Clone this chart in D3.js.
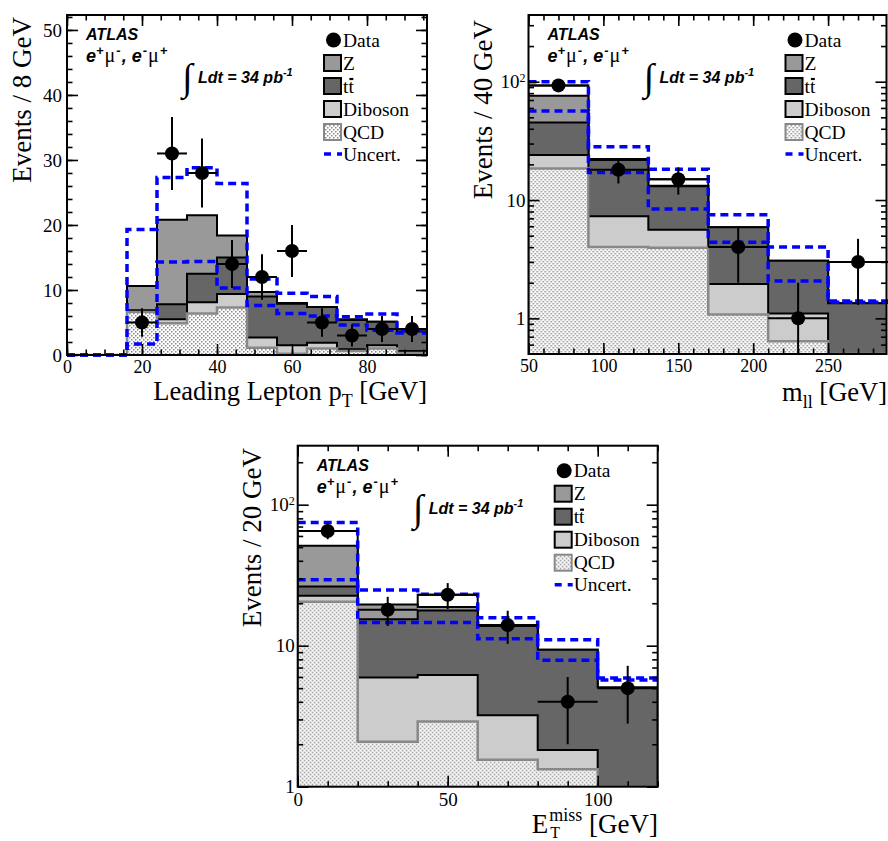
<!DOCTYPE html>
<html><head><meta charset="utf-8">
<script src="https://cdn.jsdelivr.net/npm/d3@7"></script>
<style>
body{margin:0;background:#fff;}
svg{display:block;background:#fff;}
</style></head><body>
<svg id="c" width="888" height="841"></svg>
<script>
// ---------------- DATA ----------------
// Leading lepton pT (8 GeV bins)
const ptBinEdges = [0,8,16,24,32,40,48,56,64,72,80,88,96];
const ptQCD      = [0,0,6.6,4.9,6.4,7.3,1.1,0.2,1.0,0.6,1.0,0.3];
const ptDiboson  = [0,0,0.1,0.6,1.7,2.1,1.6,1.3,0.9,0.3,0.5,0.3];
const ptTtbar    = [0,0,0.2,2.3,4.4,5.6,6.3,6.4,5.5,4.5,3.6,3.0];
const ptZ        = [0,0,3.7,13.0,9.0,3.4,0.7,0.1,0,0.1,0,0];
const ptData     = [0,0,5,31,28,14,12,16,5,3,4,4];
const ptDataErr  = [0,0,2.2,5.6,5.3,3.7,3.5,4.0,2.2,1.7,2.0,2.0];
const ptUncUp    = [0,0,19.3,27.3,28.8,26.4,11.7,9.5,9.0,5.9,6.3,3.8];
const ptUncDown  = [0,0,1.7,14.3,14.4,10.3,7.6,6.4,6.0,4.6,3.8,3.4];
const ptXTicks   = [0,20,40,60,80];
const ptYTicks   = [0,10,20,30,40,50];

// Dilepton mass m_ll (40 GeV bins)
const mllBinEdges = [50,90,130,170,210,250,290];
const mllQCD      = [18.5,4.0,3.95,1.08,0.64,0];
const mllDiboson  = [5.5,3.3,1.65,0.87,0.46,0];
const mllTtbar    = [21.3,14.5,7.5,3.95,1.97,1.34];
const mllZ        = [30.9,0.4,0.1,0,0,0];
const mllData     = [93,18,15,4,1,3];
const mllDataErr  = [9.6,4.2,3.9,2.0,1.0,1.7];
const mllUncUp    = [100,28.2,18.2,7.5,4.0,1.4];
const mllUncDown  = [56.5,17.1,8.4,4.4,2.07,1.37];
const mllXTicks   = [50,100,150,200,250];
const mllYTicks   = [1,10,100];

// Missing ET (20 GeV bins)
const metBinEdges = [0,20,40,60,80,100,120];
const metQCD      = [20.5,2.08,2.9,1.55,1.33,0];
const metDiboson  = [2.1,3.86,3.3,1.66,0.49,0];
const metTtbar    = [3.7,9.46,11.6,10.59,7.52,5.05];
const metZ        = [24.9,4.2,1.0,0,0,0];
const metData     = [65,18,23,14,4,5];
const metDataErr  = [8.1,4.2,4.8,3.7,2.0,2.2];
const metUncUp    = [74.9,24.8,23.2,15.8,11.0,5.9];
const metUncDown  = [29.3,14.6,14.6,11.2,7.9,5.7];
const metXTicks   = [0,50,100];
const metYTicks   = [1,10,100];

const legendLabels = ["Data","Z","tt","Diboson","QCD","Uncert."];

// ---------------- STYLE ----------------
const SERIF = "'Liberation Serif','Times New Roman',serif";
const SANS  = "'Liberation Sans',Arial,Helvetica,sans-serif";
const colZ = "#999999", colTT = "#666666", colDib = "#cccccc", colQCDLine = "#888888";
const colUnc = "#0000ff";

const svg = d3.select("#c");
const defs = svg.append("defs");
const pat = defs.append("pattern").attr("id","dots").attr("patternUnits","userSpaceOnUse")
  .attr("width",4).attr("height",4);
pat.append("rect").attr("width",4).attr("height",4).attr("fill","#fff");
pat.append("rect").attr("x",0).attr("y",0).attr("width",1.5).attr("height",1.5).attr("fill","#888");
pat.append("rect").attr("x",2).attr("y",2).attr("width",1.5).attr("height",1.5).attr("fill","#888");

function stepPoints(edges, vals){
  const p=[]; vals.forEach((v,i)=>{p.push([edges[i],v]);p.push([edges[i+1],v]);}); return p;
}
function cum(arrs){ return arrs[0].map((_,i)=>arrs.reduce((s,a)=>s+a[i],0)); }

let clipId=0;
function drawPanel(c){
  const g = svg.append("g").attr("transform",`translate(${c.left},${c.top})`);
  const x = d3.scaleLinear().domain(c.xDom).range([0,c.w]);
  const y = c.log ? d3.scaleLog().domain(c.yDom).range([c.h,0]) : d3.scaleLinear().domain(c.yDom).range([c.h,0]);
  const lo = c.yDom[0];
  const yv = v => y(Math.max(lo, Math.min(c.yDom[1]*2, v)));
  const yc = v => Math.max(0, Math.min(c.h, yv(v)));

  const cid = "clip"+(clipId++);
  defs.append("clipPath").attr("id",cid).append("rect").attr("x",0).attr("y",0).attr("width",c.w).attr("height",c.h);
  const plot = g.append("g").attr("clip-path",`url(#${cid})`);

  const area = d3.area().x(d=>x(d[0])).y0(c.h+2).y1(d=>yc(d[1]));

  if(c.dataHist){
    plot.append("path").datum(stepPoints(c.edges,c.data)).attr("d",area)
      .attr("fill","#fff").attr("stroke","#000").attr("stroke-width",2);
  }
  const c1 = c.qcd, c2 = cum([c.qcd,c.dib]), c3 = cum([c.qcd,c.dib,c.tt]), c4 = cum([c.qcd,c.dib,c.tt,c.z]);
  [[c4,colZ,"#000",2],[c3,colTT,"#000",2],[c2,colDib,"#000",2],[c1,"url(#dots)",colQCDLine,2.5]].forEach(([vals,fill,stroke,sw])=>{
    plot.append("path").datum(stepPoints(c.edges,vals)).attr("d",area)
      .attr("fill",fill).attr("stroke",stroke).attr("stroke-width",sw).attr("stroke-linejoin","miter");
  });

  const line = d3.line().x(d=>x(d[0])).y(d=>yc(d[1]));
  [c.up,c.dn].forEach(vals=>{
    g.append("path").datum(stepPoints(c.edges,vals)).attr("d",line)
      .attr("fill","none").attr("stroke",colUnc).attr("stroke-width",3.5).attr("stroke-dasharray","8,5");
  });

  const dg = g.append("g");
  c.data.forEach((d,i)=>{
    if(d<=0) return;
    const cx = x((c.edges[i]+c.edges[i+1])/2);
    dg.append("line").attr("x1",x(c.edges[i])).attr("x2",x(c.edges[i+1])).attr("y1",yv(d)).attr("y2",yv(d))
      .attr("stroke","#000").attr("stroke-width",2);
    dg.append("line").attr("x1",cx).attr("x2",cx).attr("y1",yc(d+c.err[i])).attr("y2",yc(d-c.err[i]))
      .attr("stroke","#000").attr("stroke-width",2);
    dg.append("circle").attr("cx",cx).attr("cy",yv(d)).attr("r",7).attr("fill","#000");
  });

  function styleAxis(sel, fs){
    sel.select(".domain").remove();
    sel.selectAll(".tick line").attr("stroke","#000").attr("stroke-width",1.6);
    sel.selectAll("text").attr("font-family",SERIF).attr("font-size",fs).attr("fill","#000");
  }
  const fmtX = d3.format("d");
  styleAxis(g.append("g").attr("transform",`translate(0,${c.h})`)
    .call(d3.axisBottom(x).tickValues(c.xMaj).tickSizeInner(-11).tickSizeOuter(0).tickPadding(c.xPad).tickFormat(fmtX)),c.xFs);
  styleAxis(g.append("g").attr("transform",`translate(0,${c.h})`)
    .call(d3.axisBottom(x).tickValues(c.xMin).tickSizeInner(-5.5).tickSizeOuter(0).tickFormat("")),19);
  styleAxis(g.append("g").call(d3.axisTop(x).tickValues(c.xMaj).tickSizeInner(-11).tickSizeOuter(0).tickFormat("")),19);
  styleAxis(g.append("g").call(d3.axisTop(x).tickValues(c.xMin).tickSizeInner(-5.5).tickSizeOuter(0).tickFormat("")),19);
  const yl = g.append("g").call(d3.axisLeft(y).tickValues(c.yMaj).tickSizeInner(-11).tickSizeOuter(0).tickPadding(c.log?3:5).tickFormat(d=>d===100?"10":String(d)));
  styleAxis(yl,19);
  if(c.log){
    yl.selectAll(".tick text").filter(d=>d===100).append("tspan").attr("dy","-0.5em").attr("font-size",12).text("2");
  }
  styleAxis(g.append("g").call(d3.axisLeft(y).tickValues(c.yMin).tickSizeInner(-5.5).tickSizeOuter(0).tickFormat("")),19);
  styleAxis(g.append("g").attr("transform",`translate(${c.w},0)`).call(d3.axisRight(y).tickValues(c.yMaj).tickSizeInner(-11).tickSizeOuter(0).tickFormat("")),19);
  styleAxis(g.append("g").attr("transform",`translate(${c.w},0)`).call(d3.axisRight(y).tickValues(c.yMin).tickSizeInner(-5.5).tickSizeOuter(0).tickFormat("")),19);

  g.append("rect").attr("x",0).attr("y",0).attr("width",c.w).attr("height",c.h)
    .attr("fill","none").attr("stroke","#000").attr("stroke-width",2);

  g.append("text").attr("x",19).attr("y",25).attr("font-family",SANS).attr("font-weight","bold")
    .attr("font-style","italic").attr("font-size",16).text("ATLAS");
  const ch = g.append("text").attr("x",19).attr("y",47).attr("font-family",SANS).attr("font-weight","bold")
    .attr("font-style","italic").attr("font-size",18);
  let base=0;
  function seg(t, txt, opts){
    const s=t.append("tspan").text(txt);
    const off = opts.off||0;
    s.attr("dy", off-base); base=off;
    if(opts.fs) s.attr("font-size",opts.fs);
    if(opts.serif) s.attr("font-family",SERIF).attr("font-weight","normal").attr("font-style","normal");
    if(opts.dx) s.attr("dx",opts.dx);
    return s;
  }
  base=0;
  seg(ch,"e",{});
  seg(ch,"+",{off:-7,fs:13});
  seg(ch,"μ",{off:0,fs:20,serif:true,dx:1});
  seg(ch,"-",{off:-7,fs:13,dx:1});
  seg(ch,", e",{off:0,dx:1});
  seg(ch,"-",{off:-7,fs:13,dx:1});
  seg(ch,"μ",{off:0,fs:20,serif:true,dx:1});
  seg(ch,"+",{off:-7,fs:13,dx:1});

  g.append("text").attr("x",115).attr("y",75).attr("font-family",SERIF).attr("font-size",38).text("∫");
  const lum = g.append("text").attr("x",131).attr("y",68).attr("font-family",SANS).attr("font-weight","bold")
    .attr("font-style","italic").attr("font-size",16);
  base=0;
  seg(lum,"Ldt = 34 pb",{});
  seg(lum,"-1",{off:-7,fs:11});

  const lg = g.append("g");
  const rows=[25,48,71,94,117,139];
  const bx=257, bw=17, bh=16;
  lg.append("circle").attr("cx",bx+bw/2+1).attr("cy",rows[0]).attr("r",7.5).attr("fill","#000");
  [[colZ,"#000"],[colTT,"#000"],[colDib,"#000"],["url(#dots)",colQCDLine]].forEach(([f,s],k)=>{
    lg.append("rect").attr("x",bx).attr("y",rows[k+1]-bh/2).attr("width",bw).attr("height",bh)
      .attr("fill",f).attr("stroke",s).attr("stroke-width",2);
  });
  lg.append("line").attr("x1",bx).attr("x2",bx+bw+1).attr("y1",rows[5]).attr("y2",rows[5])
    .attr("stroke",colUnc).attr("stroke-width",3.5).attr("stroke-dasharray","7,6");
  legendLabels.forEach((lab,k)=>{
    const t = lg.append("text").attr("x",276).attr("y",rows[k]+6.5).attr("font-family",SERIF)
      .attr("font-size",19.5).attr("fill","#000").text(lab);
    if(k===2){
      const n=t.node();
      const p0=n.getStartPositionOfChar(1), p1=n.getEndPositionOfChar(1);
      lg.append("line").attr("x1",p0.x+1).attr("x2",p1.x-0.5).attr("y1",rows[k]-7).attr("y2",rows[k]-7)
        .attr("stroke","#000").attr("stroke-width",2.2);
    }
  });

  svg.append("text").attr("transform",`translate(${c.ytx},${c.yty}) rotate(-90)`).attr("text-anchor","end")
    .attr("font-family",SERIF).attr("font-size",27).attr("fill","#000").text(c.yTitle);
  c.xTitle(svg);
}

drawPanel({left:67,top:15,w:360,h:340,xDom:[0,96],yDom:[0,52.3],log:false,dataHist:false,xPad:5,xFs:18,
  edges:ptBinEdges,qcd:ptQCD,dib:ptDiboson,tt:ptTtbar,z:ptZ,data:ptData,err:ptDataErr,up:ptUncUp,dn:ptUncDown,
  xMaj:ptXTicks,xMin:d3.range(0,97,5),yMaj:ptYTicks,yMin:d3.range(0,53,2),
  yTitle:"Events / 8 GeV",ytx:31,yty:17,
  xTitle:s=>{
    const t=s.append("text").attr("x",427).attr("y",400).attr("text-anchor","end").attr("font-family",SERIF).attr("font-size",26.5);
    t.append("tspan").text("Leading Lepton p");
    t.append("tspan").attr("font-size",18).attr("dy",7).text("T");
    t.append("tspan").attr("dy",-7).text(" [GeV]");
  }});

drawPanel({left:528.5,top:15,w:358,h:339,xDom:[50,289],yDom:[0.5,366],log:true,dataHist:true,xPad:5,xFs:18,
  edges:mllBinEdges,qcd:mllQCD,dib:mllDiboson,tt:mllTtbar,z:mllZ,data:mllData,err:mllDataErr,up:mllUncUp,dn:mllUncDown,
  xMaj:mllXTicks,xMin:d3.range(50,290,10),yMaj:mllYTicks,
  yMin:[0.6,0.7,0.8,0.9,2,3,4,5,6,7,8,9,20,30,40,50,60,70,80,90,200,300],
  yTitle:"Events / 40 GeV",ytx:492,yty:20,
  xTitle:s=>{
    const t=s.append("text").attr("x",887).attr("y",401).attr("text-anchor","end").attr("font-family",SERIF).attr("font-size",26.5);
    t.append("tspan").text("m");
    t.append("tspan").attr("font-size",18).attr("dy",7).text("ll");
    t.append("tspan").attr("dy",-7).text("  [GeV]");
  }});

drawPanel({left:297.7,top:445.7,w:360,h:341,xDom:[0,120],yDom:[1,262],log:true,dataHist:true,xPad:6,xFs:19,
  edges:metBinEdges,qcd:metQCD,dib:metDiboson,tt:metTtbar,z:metZ,data:metData,err:metDataErr,up:metUncUp,dn:metUncDown,
  xMaj:metXTicks,xMin:d3.range(0,121,10),yMaj:metYTicks,
  yMin:[2,3,4,5,6,7,8,9,20,30,40,50,60,70,80,90,200],
  yTitle:"Events / 20 GeV",ytx:261,yty:448,
  xTitle:s=>{
    const t=s.append("text").attr("x",658).attr("y",833).attr("text-anchor","end").attr("font-family",SERIF).attr("font-size",27);
    t.append("tspan").text("E");
    t.append("tspan").attr("font-size",18).attr("dy",-12).attr("dx",1).text("miss");
    t.append("tspan").attr("dy",12).text(" [GeV]");
    const n=t.node();
    const p=n.getStartPositionOfChar(1);
    s.append("text").attr("x",p.x+1).attr("y",838).attr("font-family",SERIF).attr("font-size",16).text("T");
  }});
</script>
</body></html>
